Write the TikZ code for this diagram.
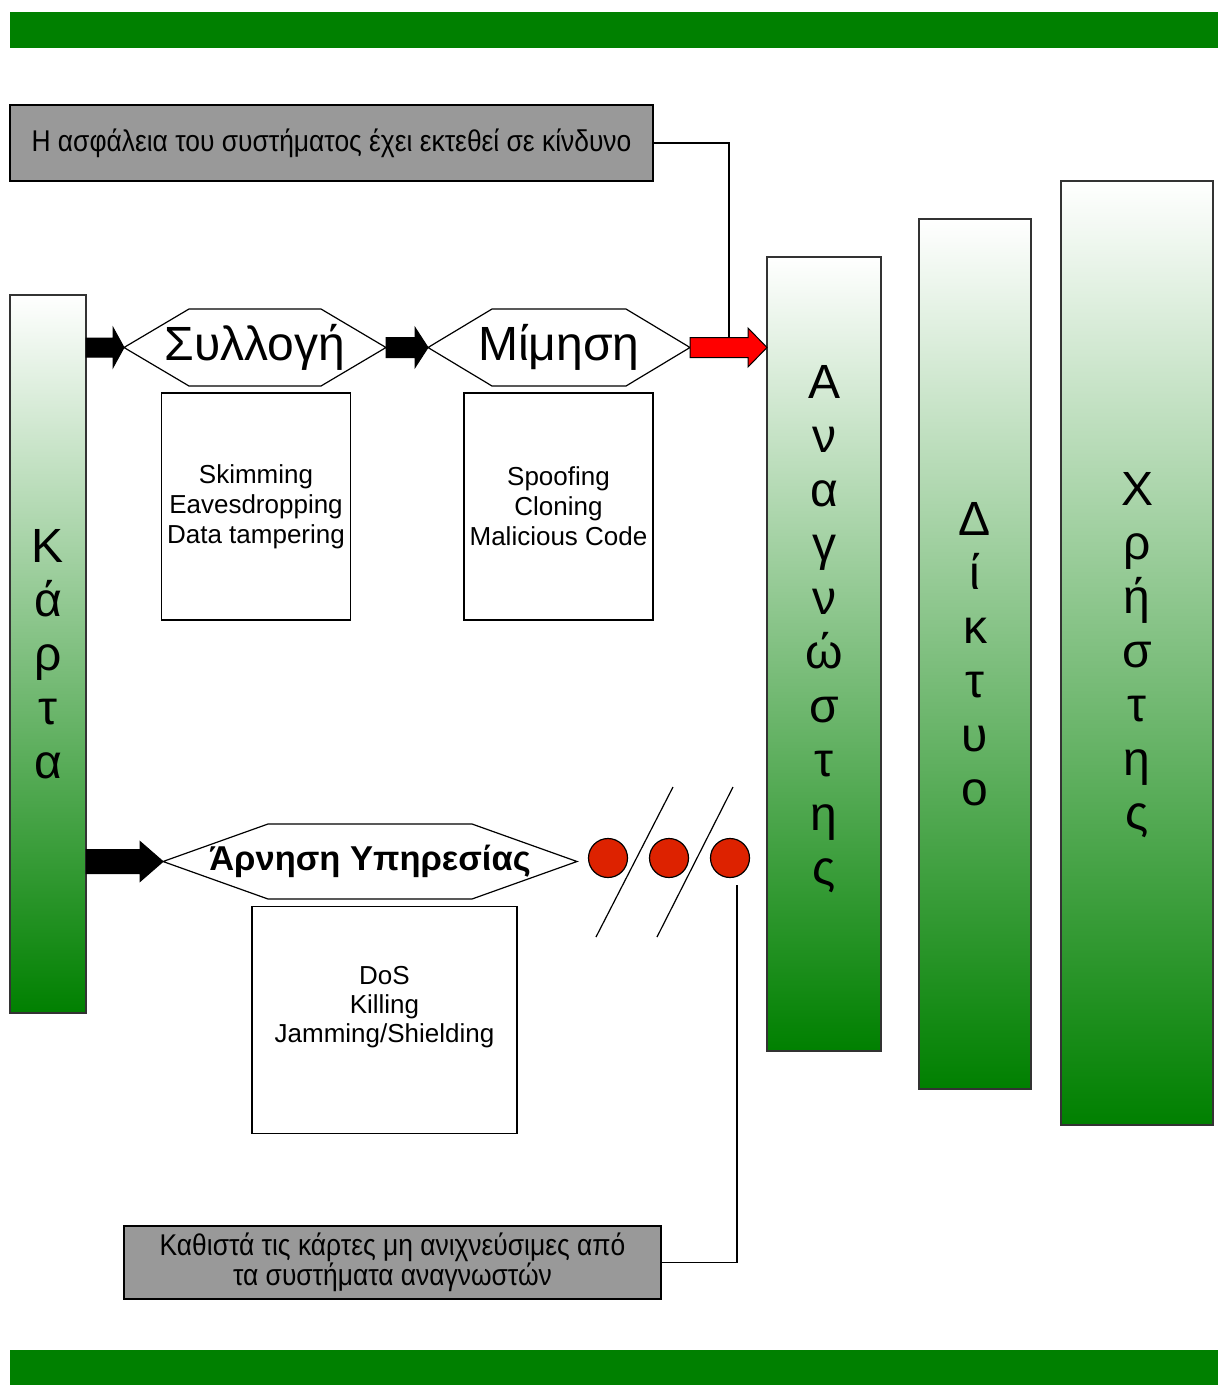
\documentclass[tikz,border=0pt]{standalone}
\usepackage{fontspec}
\setmainfont{Liberation Sans}
\newfontfamily\narrowfont[FakeStretch=0.88]{Liberation Sans}
\usetikzlibrary{calc}
\definecolor{bargreen}{RGB}{0,128,0}
\definecolor{notegray}{RGB}{153,153,153}
\definecolor{dotred}{RGB}{221,34,0}
\newcommand{\hexframe}[2]{
  \draw[line width=1.2pt] (#1.west) -- ([xshift=#2]#1.north west) -- ([xshift=-#2]#1.north east)
    -- (#1.east) -- ([xshift=-#2]#1.south east) -- ([xshift=#2]#1.south west) -- cycle;
}
\newcommand{\blockarrow}[6]{
  \filldraw[fill=#1, draw=black, line width=1pt] ($(#2)+(0,-#4)$) -- ($(#3)+(-#6,-#4)$)
    -- ($(#3)+(-#6,-#5)$) -- (#3) -- ($(#3)+(-#6,#5)$) -- ($(#3)+(-#6,#4)$)
    -- ($(#2)+(0,#4)$) -- cycle;
}
\tikzset{
  bar/.style={draw=black!80, line width=1.5pt, top color=white, bottom color=bargreen,
    inner sep=0pt, outer sep=0pt},
  letters/.style={font=\fontsize{48}{54}\selectfont, align=center, inner sep=0pt},
  hexlabel/.style={inner sep=0pt, outer sep=0pt, minimum height=77pt, font=\fontsize{48}{50}\selectfont},
  infobox/.style={draw, line width=1.2pt, fill=white, inner sep=0pt, outer sep=0pt,
    minimum width=189pt, minimum height=227pt, align=center, font=\fontsize{26}{30}\selectfont},
  notebox/.style={draw, line width=1.5pt, fill=notegray, inner sep=0pt, outer sep=0pt,
    align=center, font=\narrowfont\fontsize{30}{28}\selectfont},
  dot/.style={circle, draw, line width=1.2pt, fill=dotred, minimum size=39pt, inner sep=0pt},
  wire/.style={line width=1.2pt}
}

\begin{document}
\begin{tikzpicture}[x=1pt, y=-1pt]
  \useasboundingbox (0,0) rectangle (1218,1385);
  \fill[bargreen] (10,12) rectangle (1218,48);
  \fill[bargreen] (10,1350) rectangle (1218,1385);

  % the four columns
  \node[bar, minimum width=76pt, minimum height=718pt] (karta) at (48,654) {};
  \node[bar, minimum width=114pt, minimum height=794pt] (reader) at (824,654) {};
  \node[bar, minimum width=112pt, minimum height=870pt] (net) at (975,654) {};
  \node[bar, minimum width=152pt, minimum height=944pt] (user) at (1137,653) {};
  \node[letters] at (karta.center) {Κ\\ά\\ρ\\τ\\α};
  \node[letters] at ([yshift=25pt]reader.center) {Α\\ν\\α\\γ\\ν\\ώ\\σ\\τ\\η\\ς};
  \node[letters] at (net.center) {Δ\\ί\\κ\\τ\\υ\\ο};
  \node[letters] at ([yshift=-2pt]user.center) {Χ\\ρ\\ή\\σ\\τ\\η\\ς};

  % attack stages
  \node[hexlabel, minimum width=262pt] (syl) at (255,347.5) {Συλλογή};
  \node[hexlabel, minimum width=262pt] (mim) at (559,347.5) {Μίμηση};
  \node[hexlabel, minimum width=414pt, minimum height=75pt, font=\bfseries\fontsize{34.5}{36}\selectfont]
    (arn) at (370,861.5) {Άρνηση Υπηρεσίας};
  \hexframe{syl}{65pt}
  \hexframe{mim}{64pt}
  \hexframe{arn}{105pt}

  \node[infobox] (skim) at (256,506.5) {Skimming\\Eavesdropping\\Data tampering};
  \node[infobox] (spoof) at (558.5,506.5) {Spoofing\\Cloning\\Malicious Code};
  \node[infobox, minimum width=265pt] (dos) at (384.5,1020) {};
  \node[align=center, font=\fontsize{26}{29}\selectfont] at ([yshift=13pt]dos.center) {DoS\\Killing\\Jamming/Shielding};

  \coordinate (a1) at (karta.east |- syl.west);
  \coordinate (a2) at (karta.east |- arn.west);
  \coordinate (a3) at (mim.east -| reader.west);
  \blockarrow{black}{a1}{syl.west}{9.5}{20}{11}
  \blockarrow{black}{syl.east}{mim.west}{10}{20}{13}
  \blockarrow{red}{mim.east}{a3}{10}{19.5}{19}
  \blockarrow{black}{a2}{arn.west}{12}{20}{23}

  \node[dot] (c1) at (608,858) {};
  \node[dot] (c2) at (669,858) {};
  \node[dot] (c3) at (730,858) {};
  \draw[wire] (596,937) -- (673,787);
  \draw[wire] (657,937) -- (733,787);

  % notes
  \node[notebox, minimum width=643pt, minimum height=76pt] (warn) at (331.5,143)
    {Η ασφάλεια του συστήματος έχει εκτεθεί σε κίνδυνο};
  \node[notebox, minimum width=537pt, minimum height=73pt] (note) at (392.5,1262.5)
    {Καθιστά τις κάρτες μη ανιχνεύσιμες από\\τα συστήματα αναγνωστών};
  \coordinate (hit) at (729,337);
  \coordinate (c3foot) at (737,885);
  \draw[wire] (warn.east) -| (hit);
  \draw[wire] (c3foot) |- (note.east);
\end{tikzpicture}
\end{document}
